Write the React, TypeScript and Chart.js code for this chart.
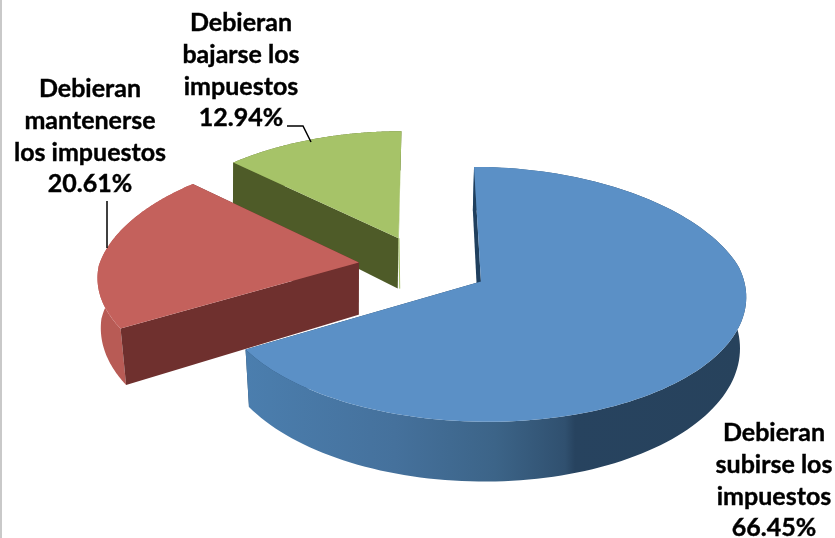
import React, { useEffect, useRef } from "react";
import { Chart, registerables } from "chart.js";

Chart.register(...registerables);

const categories = ["Debieran subirse los impuestos", "Debieran mantenerse los impuestos", "Debieran bajarse los impuestos"];
const shares = [66.45, 20.61, 12.94];
const percentLabels = ["66.45%", "20.61%", "12.94%"];
const labelLines = [
  ["Debieran", "subirse los", "impuestos"],
  ["Debieran", "mantenerse", "los impuestos"],
  ["Debieran", "bajarse los", "impuestos"],
];
const topColors = ["#5B90C6", "#C4615C", "#A6C368"];
const cutColors = ["#1F3F5E", "#6F302E", "#4E5B28"];
const backCutColors = ["#1F3F5E", "#6F302E", "#A6C368"];

// layout of the drawing (not data)
const labelAnchors = [
  { x: 774, y: 433 },
  { x: 90, y: 89 },
  { x: 241, y: 23 },
];
const LINE = 31.8;
const leaders: [number, number][][] = [
  [],
  [[107, 201], [107, 248]],
  [[287, 126], [303, 126], [311, 142]],
];
const topPlane = { cx: 423.5, cy: 266, rx: 260, ry: 123, p: 0.1, pFar: 0.14 };
const bottomPlane = { cx: 422.5, cy: 318.5, rx: 257, ry: 132, p: 0.08, pFar: 0.13 };

type Plane = typeof topPlane;
const project = (pl: Plane, u: number, v: number): [number, number] => {
  const w = 1 - pl.p * v;
  const wx = 1 - (v < 0 ? pl.pFar : pl.p) * v;
  return [pl.cx + (pl.rx * u) / wx, pl.cy + (pl.ry * v) / w];
};

const pie3d = {
  id: "pie3d",
  beforeDatasetDraw(chart: any) {
    const { ctx } = chart;
    const arcs = chart.getDatasetMeta(0).data;
    const colors = chart.data.datasets[0].backgroundColor;
    // painter's order: farthest slice first
    [2, 1, 0].forEach((i) => {
      const el = arcs[i];
      const { startAngle, endAngle, outerRadius } = el.getProps(["startAngle", "endAngle", "outerRadius"], true);
      const e = el.options.offset / outerRadius;
      const mid = (startAngle + endAngle) / 2;
      const ou = e * Math.cos(mid);
      const ov = e * Math.sin(mid);
      const at = (pl: Plane, a: number) => project(pl, ou + Math.cos(a), ov + Math.sin(a));
      const apex = (pl: Plane) => project(pl, ou, ov);
      const steps = 140;
      const arcPts = (pl: Plane) => {
        const pts: [number, number][] = [];
        for (let s = 0; s <= steps; s++) pts.push(at(pl, startAngle + ((endAngle - startAngle) * s) / steps));
        return pts;
      };
      const fillPoly = (pts: [number, number][], fill: any) => {
        ctx.beginPath();
        pts.forEach((p, k) => (k ? ctx.lineTo(p[0], p[1]) : ctx.moveTo(p[0], p[1])));
        ctx.closePath();
        ctx.fillStyle = fill;
        ctx.fill();
      };
      const top = arcPts(topPlane);
      const bot = arcPts(bottomPlane);

      // back cut wall
      fillPoly([apex(topPlane), at(topPlane, endAngle), at(bottomPlane, endAngle), apex(bottomPlane)], backCutColors[i]);

      // rim
      let rim: any = "#B85B55";
      if (i === 0) {
        const g = ctx.createLinearGradient(245, 0, 745, 0);
        g.addColorStop(0, "#4B7EAE");
        g.addColorStop(0.3, "#45719C");
        g.addColorStop(0.5, "#3C6488");
        g.addColorStop(0.64, "#30506F");
        g.addColorStop(0.66, "#27435F");
        g.addColorStop(1, "#27425C");
        rim = g;
      } else if (i === 2) {
        rim = "#5E6D30";
      }
      fillPoly([...top, ...bot.slice().reverse()], rim);

      // front cut wall
      fillPoly([apex(topPlane), at(topPlane, startAngle), at(bottomPlane, startAngle), apex(bottomPlane)], cutColors[i]);

      // top face
      fillPoly([apex(topPlane), ...top], colors[i]);
    });

    // thin lit edge on the right of the green slice's wall
    const el = arcs[2];
    const { startAngle, endAngle, outerRadius } = el.getProps(["startAngle", "endAngle", "outerRadius"], true);
    const e = el.options.offset / outerRadius;
    const m = (startAngle + endAngle) / 2;
    const a = project(topPlane, e * Math.cos(m), e * Math.sin(m));
    const b = project(bottomPlane, e * Math.cos(m), e * Math.sin(m));
    ctx.beginPath();
    ctx.moveTo(a[0] + 0.5, a[1]);
    ctx.lineTo(b[0] + 2, b[1]);
    ctx.strokeStyle = "#A6C368";
    ctx.lineWidth = 1;
    ctx.stroke();
    return false;
  },
  afterDraw(chart: any) {
    const { ctx } = chart;
    ctx.save();
    // frame
    ctx.fillStyle = "#C9C9C9";
    ctx.fillRect(0, 0, 2, chart.height);

    // leader lines
    ctx.strokeStyle = "#000";
    ctx.lineWidth = 1.5;
    leaders.forEach((l) => {
      if (!l.length) return;
      ctx.beginPath();
      l.forEach((p, k) => (k ? ctx.lineTo(p[0], p[1]) : ctx.moveTo(p[0], p[1])));
      ctx.stroke();
    });

    // labels
    ctx.fillStyle = "#000";
    ctx.strokeStyle = "#000";
    ctx.lineWidth = 0.4;
    ctx.font = "bold 25px Lato";
    ctx.textAlign = "center";
    ctx.textBaseline = "middle";
    labelLines.forEach((lines, i) => {
      [...lines, percentLabels[i]].forEach((t, k) => {
        const y = labelAnchors[i].y + k * LINE;
        ctx.fillText(t, labelAnchors[i].x, y);
        ctx.strokeText(t, labelAnchors[i].x, y);
      });
    });
    ctx.restore();
  },
};

export default function App() {
  const ref = useRef<HTMLCanvasElement>(null);
  useEffect(() => {
    document.body.style.margin = "0";
    document.body.style.background = "#fff";
    const chart = new Chart(ref.current!, {
      type: "pie",
      data: {
        labels: categories,
        datasets: [{ data: shares, backgroundColor: topColors, offset: 60, borderWidth: 0 }],
      },
      options: {
        responsive: false,
        animation: false,
        plugins: { legend: { display: false }, tooltip: { enabled: false } },
      },
      plugins: [pie3d],
    } as any);
    return () => chart.destroy();
  }, []);
  return <canvas ref={ref} width={835} height={538} style={{ display: "block" }} />;
}
